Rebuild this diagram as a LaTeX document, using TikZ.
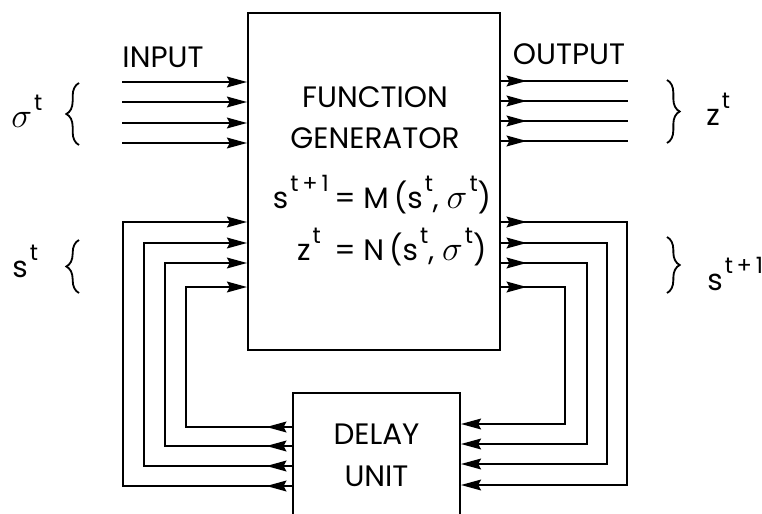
\documentclass[tikz,border=0pt]{standalone}
\usepackage{fontspec}
\setmainfont{Poppins}
\usetikzlibrary{arrows.meta, decorations.markings, decorations.pathreplacing}
\newcommand{\upt}[1]{\kern1.5pt\raisebox{0.55em}{\fontsize{16}{16}\selectfont #1}}
\newcommand{\sgm}{{\fontsize{25}{25}\selectfont$\sigma$}}
\tikzset{
  box/.style ={draw, line width=1.4pt, align=center, inner sep=0pt,
               font=\fontsize{21}{30}\selectfont},
  lbl/.style ={align=center, inner sep=0pt, font=\fontsize{21}{29}\selectfont},
  wire/.style={line width=1.3pt},
  arr/.style ={wire, -{Stealth[length=5mm, width=2.7mm, inset=0.7mm]}},
  lead/.style={wire, postaction={decorate},
               decoration={markings, mark=at position 0.64cm with
                 {\arrow{Stealth[length=5mm, width=2.7mm, inset=0.7mm]}}}},
  brc/.style ={line width=1.3pt, decorate, decoration={brace, amplitude=9pt}},
}

\begin{document}
\begin{tikzpicture}[x=0.025cm, y=-0.025cm]
  \useasboundingbox (0,0) rectangle (762,513);
  \clip (0,0) rectangle (762,513);

  % blocks
  \node[box, minimum width=6.3cm, minimum height=8.425cm] (fg) at (374,181.5) {};
  \node[box, minimum width=4.175cm, minimum height=3.1cm] (du) at (376.5,455) {DELAY\\UNIT};

  \node[lbl] (ttl) at (375,118) {FUNCTION\\GENERATOR};
  \node[lbl, anchor=base east] (lhs1) at (329,208) {s\upt{t\,+\,1}};
  \node[lbl, anchor=base west] (rhs1) at (334,208) {= M\,(s\upt{t},\ \sgm\upt{t})};
  \node[lbl, anchor=base east] (lhs2) at (329,260) {z\upt{t}\ };
  \node[lbl, anchor=base west] (rhs2) at (334,260) {= N\,(s\upt{t},\ \sgm\upt{t})};

  \node[lbl] (inp) at (163,57) {INPUT};
  \node[lbl] (outp) at (569,54) {OUTPUT};

  % input lines
  \coordinate (in1) at (122,82);
  \coordinate (in2) at (122,102);
  \coordinate (in3) at (122,123);
  \coordinate (in4) at (122,143);
  \draw[arr] (in1) -- (in1 -| fg.west);
  \draw[arr] (in2) -- (in2 -| fg.west);
  \draw[arr] (in3) -- (in3 -| fg.west);
  \draw[arr] (in4) -- (in4 -| fg.west);

  % output lines
  \coordinate (out1) at (628,81);
  \coordinate (out2) at (628,101);
  \coordinate (out3) at (628,121);
  \coordinate (out4) at (628,141);
  \draw[lead] (out1 -| fg.east) -- (out1);
  \draw[lead] (out2 -| fg.east) -- (out2);
  \draw[lead] (out3 -| fg.east) -- (out3);
  \draw[lead] (out4 -| fg.east) -- (out4);

  % state out of the generator, into the delay
  \coordinate (ra1) at (627,222); \coordinate (rb1) at (627,485);
  \coordinate (ra2) at (607,243); \coordinate (rb2) at (607,464);
  \coordinate (ra3) at (587,263); \coordinate (rb3) at (587,444);
  \coordinate (ra4) at (565,287); \coordinate (rb4) at (565,424);
  \draw[lead, arr] (ra1 -| fg.east) -- (ra1) -- (rb1) -- (rb1 -| du.east);
  \draw[lead, arr] (ra2 -| fg.east) -- (ra2) -- (rb2) -- (rb2 -| du.east);
  \draw[lead, arr] (ra3 -| fg.east) -- (ra3) -- (rb3) -- (rb3 -| du.east);
  \draw[lead, arr] (ra4 -| fg.east) -- (ra4) -- (rb4) -- (rb4 -| du.east);

  % delayed state back into the generator
  \coordinate (lb1) at (123,486); \coordinate (la1) at (123,222);
  \coordinate (lb2) at (144,466); \coordinate (la2) at (144,243);
  \coordinate (lb3) at (165,446); \coordinate (la3) at (165,263);
  \coordinate (lb4) at (186,427); \coordinate (la4) at (186,287);
  \draw[lead, arr] (lb1 -| du.west) -- (lb1) -- (la1) -- (la1 -| fg.west);
  \draw[lead, arr] (lb2 -| du.west) -- (lb2) -- (la2) -- (la2 -| fg.west);
  \draw[lead, arr] (lb3 -| du.west) -- (lb3) -- (la3) -- (la3 -| fg.west);
  \draw[lead, arr] (lb4 -| du.west) -- (lb4) -- (la4) -- (la4 -| fg.west);

  % braces and their labels
  \draw[brc] (79,145) -- (79,83);
  \draw[brc] (79,293) -- (79,240);
  \draw[brc] (667,80) -- (667,143);
  \draw[brc] (667,237) -- (667,293);
  \node[lbl, anchor=base west] (sig) at (11,127) {\sgm\upt{t}};
  \node[lbl, anchor=base west] (st) at (12,277) {s\upt{t}};
  \node[lbl, anchor=base west] (zt) at (706,125) {z\upt{t}};
  \node[lbl, anchor=base west] (snx) at (707,290) {s\upt{t\,+\,1}};
\end{tikzpicture}
\end{document}
